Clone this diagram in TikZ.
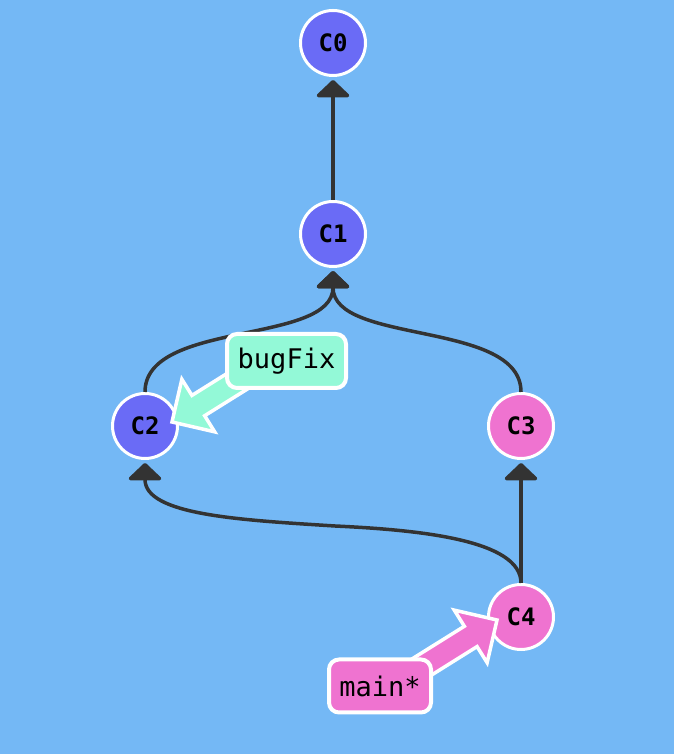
\documentclass[tikz,border=0pt]{standalone}
\usepackage{fontspec}
\setmonofont{DejaVu Sans Mono}
\usetikzlibrary{arrows.meta}
\definecolor{bgc}{HTML}{74B8F5}
\definecolor{bluec}{HTML}{6A6BF6}
\definecolor{pinkc}{HTML}{EF73D0}
\definecolor{mintc}{HTML}{93F9D7}
\definecolor{edgec}{HTML}{333333}
\tikzset{
  commit/.style={circle, draw=white, line width=3pt, minimum size=65pt, inner sep=0pt,
    font=\ttfamily\bfseries\fontsize{24}{24}\selectfont},
  bluecommit/.style={commit, fill=bluec},
  pinkcommit/.style={commit, fill=pinkc},
  branchlabel/.style={rounded corners=10pt, draw=white, line width=4pt, inner sep=0pt,
    font=\ttfamily\fontsize{27}{27}\selectfont},
  parent/.style={draw=edgec, line width=3.5pt, -{Triangle[width=37pt,length=18pt,round]}},
  fatarrow/.style={draw=white, line width=3.5pt, line join=miter},
}
\begin{document}
\begin{tikzpicture}[x=1pt,y=1pt]
\useasboundingbox (0,0) rectangle (674,754);
\fill[bgc] (0,0) rectangle (674,754);

\node[bluecommit] (C0) at (333,711) {C0};
\node[bluecommit] (C1) at (333,520) {C1};
\node[bluecommit] (C2) at (145,328) {C2};
\node[pinkcommit] (C3) at (521,328) {C3};
\node[pinkcommit] (C4) at (521,137) {C4};

\draw[parent] (C1.north) -- ([yshift=-3pt]C0.south);
\draw[parent] (C2.north) .. controls +(0,72) and +(0,-74) .. ([yshift=-3pt]C1.south);
\draw[parent] (C3.north) .. controls +(0,72) and +(0,-74) .. ([yshift=-3pt]C1.south);
\draw[parent] (C4.north) -- ([yshift=-3pt]C3.south);
\draw[parent] (C4.north) .. controls +(0,43) and +(85,-4) .. (335,228)
  .. controls +(-95,6) and +(0,-52) .. ([yshift=-3pt]C2.south);

\coordinate (bftip) at ([shift={(27pt,4pt)}]C2.center);
\coordinate (maintip) at ([shift={(-24pt,-3pt)}]C4.center);

\begin{scope}[shift={(bftip)}, rotate=32]
  \draw[fatarrow, fill=mintc] (0,0) -- (31,31) -- (31,12) -- (110,12) -- (110,-12) -- (31,-12) -- (31,-31) -- cycle;
\end{scope}
\begin{scope}[shift={(maintip)}, rotate=212]
  \draw[fatarrow, fill=pinkc] (0,0) -- (31,31) -- (31,12) -- (110,12) -- (110,-12) -- (31,-12) -- (31,-31) -- cycle;
\end{scope}

\node[branchlabel, fill=mintc, minimum width=119pt, minimum height=54pt] (bugFix) at (286.5,393) {bugFix};
\node[branchlabel, fill=pinkc, minimum width=102pt, minimum height=53pt] (main) at (380,68) {main*};
\end{tikzpicture}
\end{document}
